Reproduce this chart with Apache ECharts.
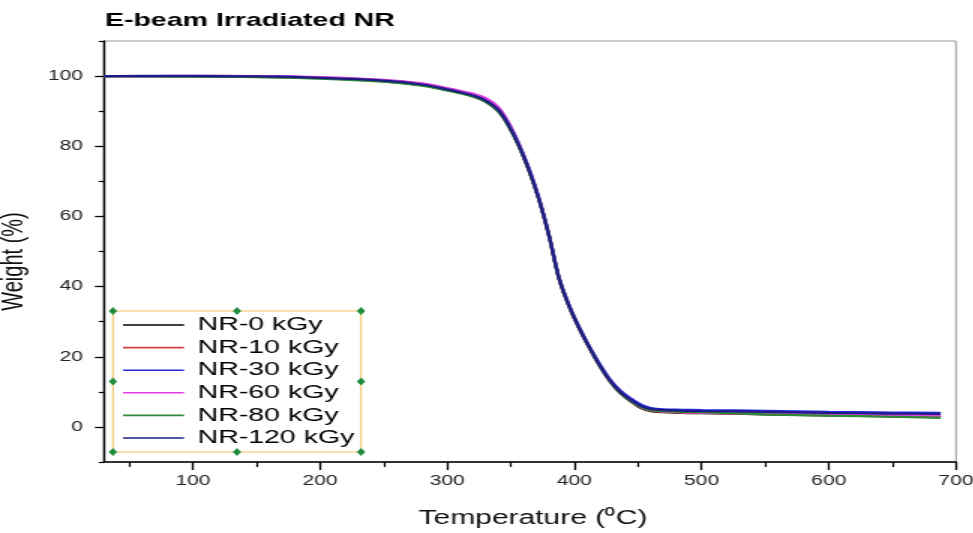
<!DOCTYPE html>
<html><head><meta charset="utf-8">
<script src="https://cdn.jsdelivr.net/npm/echarts@6/dist/echarts.min.js"></script>
<style>
html,body{margin:0;padding:0;background:#fff;overflow:hidden;}
#wrap{width:973px;height:533px;overflow:hidden;position:relative;background:#fff;}
#c{width:649px;height:533px;transform:scaleX(1.5);transform-origin:0 0;}
</style></head><body>
<div id="wrap"><div id="c"></div></div>
<script>
// ---- data ----
const temperature = [30,60,100,150,200,250,280,300,310,320,330,340,348,356,364,372,380,388,396,404,412,420,428,436,444,452,460,470,485,500,550,600,650,688];
const nr0   = [100.0,100.0,100.0,99.8,99.4,98.5,97.4,96.0,95.2,94.2,92.7,90.0,85.8,80.2,73.2,64.8,54.3,42.0,34.1,27.8,22.3,17.2,12.9,9.6,7.3,5.4,4.5,4.2,4.0,3.9,3.6,3.3,3.0,2.8];
const nr10  = [100.0,100.0,100.0,99.9,99.5,98.6,97.5,96.1,95.3,94.4,93.0,90.4,86.0,80.4,73.4,65.0,54.6,42.3,34.2,27.9,22.4,17.4,13.1,9.8,7.5,5.6,4.6,4.3,4.1,4.0,3.7,3.4,3.2,3.0];
const nr30  = [100.0,100.1,100.1,100.0,99.6,98.8,97.8,96.4,95.6,94.8,93.5,91.0,86.8,81.0,74.0,65.4,54.8,42.5,34.6,28.3,22.8,17.9,13.6,10.4,8.2,6.4,5.4,5.0,4.9,4.8,4.6,4.3,4.1,4.0];
const nr60  = [100.0,100.0,100.1,100.0,99.7,98.9,97.9,96.6,95.8,95.0,93.8,91.2,86.8,80.8,73.6,65.0,54.4,42.1,34.2,27.9,22.4,17.5,13.2,10.0,7.7,5.8,4.8,4.4,4.2,4.1,3.8,3.6,3.4,3.2];
const nr80  = [100.0,100.0,99.9,99.7,99.3,98.4,97.3,95.9,95.1,94.2,92.8,90.2,85.9,80.3,73.3,64.9,54.4,42.1,34.2,27.9,22.4,17.4,13.1,9.8,7.5,5.7,4.8,4.5,4.3,4.2,3.6,3.2,2.9,2.6];
const nr120 = [100.0,100.0,100.0,99.9,99.5,98.7,97.6,96.2,95.4,94.5,93.1,90.5,86.2,80.5,73.5,65.0,54.5,42.2,34.3,28.0,22.5,17.5,13.2,10.0,7.8,6.0,5.1,4.8,4.6,4.5,4.3,4.0,3.8,3.7];
const seriesNames = ['NR-0 kGy','NR-10 kGy','NR-30 kGy','NR-60 kGy','NR-80 kGy','NR-120 kGy'];
const seriesValues = [nr0, nr10, nr30, nr60, nr80, nr120];
const seriesColors = ['#000000','#d83c44','#2a2ae0','#e040e0','#2e8b35','#1c1c84'];
const xTicks = [100,200,300,400,500,600,700];
const xMinorTicks = [50,150,250,350,450,550,650];
const yTicks = [0,20,40,60,80,100];
const yMinorTicks = [-10,10,30,50,70,90,110];

const FONT = 'Liberation Sans, Arial, sans-serif';
const chart = echarts.init(document.getElementById('c'), null, {renderer:'canvas'});

const series = seriesNames.map((n, k) => ({
  name: n,
  type: 'line',
  xAxisIndex: 0, yAxisIndex: 0,
  data: temperature.map((t, i) => [t, seriesValues[k][i]]),
  showSymbol: false,
  symbol: 'none',
  smooth: 0.35,
  color: seriesColors[k],
  lineStyle: {width: 2.2, color: seriesColors[k]},
  z: 2 + k
}));

// legend frame decorations (box + green handles)
const bx0 = 75.3, bx1 = 240.7, by0 = 311, by1 = 452;
const hx = [bx0, (bx0 + bx1) / 2, bx1], hy = [by0, (by0 + by1) / 2, by1];
const graphics = [{
  type: 'rect', shape: {x: bx0, y: by0, width: bx1 - bx0, height: by1 - by0},
  style: {fill: 'none', stroke: '#f5c062', lineWidth: 1}, z: 10
}];
hx.forEach((x, i) => hy.forEach((y, j) => {
  if (i === 1 && j === 1) return;
  graphics.push({type: 'polygon', shape: {points: [[x - 2.8, y], [x, y - 4], [x + 2.8, y], [x, y + 4]]},
    style: {fill: '#1f8a3a'}, z: 11});
}));

const gridBox = {left: 69.3, right: 11.7, top: 41, bottom: 71, containLabel: false, outerBoundsMode: 'none'};

chart.setOption({
  animation: false,
  backgroundColor: '#fff',
  title: {
    text: 'E-beam Irradiated NR', left: 70, top: 11, padding: 0,
    textStyle: {fontFamily: FONT, fontSize: 19, fontWeight: 'bold', color: '#000'}
  },
  grid: [
    Object.assign({show: true, borderColor: '#999', borderWidth: 1}, gridBox),
    Object.assign({show: false}, gridBox)
  ],
  legend: {
    orient: 'vertical', left: 82, top: 314, padding: 0, itemGap: 0.6,
    icon: 'rect', itemWidth: 40.7, itemHeight: 1.6,
    data: seriesNames,
    textStyle: {fontFamily: FONT, fontSize: 19, color: '#000', lineHeight: 22, padding: [0, 0, 0, 4]}
  },
  xAxis: [{
    type: 'value', gridIndex: 0, min: 30, max: 700, position: 'bottom', offset: 0,
    name: 'Temperature (\u2070C)', nameLocation: 'middle', nameGap: 46,
    nameTextStyle: {fontFamily: FONT, fontSize: 20, color: '#111', padding: [0, 0, 0, 4]},
    axisLine: {show: true, onZero: false, lineStyle: {color: '#000', width: 1.5}},
    axisTick: {show: true, inside: false, length: 8, customValues: xTicks, lineStyle: {color: '#000', width: 1.3}},
    axisLabel: {customValues: xTicks, margin: 12, fontFamily: FONT, fontSize: 14, color: '#222'},
    splitLine: {show: false}
  }, {
    type: 'value', gridIndex: 1, min: 30, max: 700, position: 'bottom', offset: 0,
    axisLine: {show: false, onZero: false},
    axisTick: {show: true, length: 5, customValues: xMinorTicks, lineStyle: {color: '#000', width: 1.2}},
    axisLabel: {show: false}, splitLine: {show: false}
  }],
  yAxis: [{
    type: 'value', gridIndex: 0, min: -10, max: 110, position: 'left', offset: 0,
    name: 'Weight (%)', nameLocation: 'middle', nameGap: 50,
    nameTextStyle: {fontFamily: FONT, fontSize: 20, color: '#111', padding: [0, 20, 0, 0]},
    axisLine: {show: true, onZero: false, lineStyle: {color: '#000', width: 1.4}},
    axisTick: {show: true, length: 6, customValues: yTicks, lineStyle: {color: '#000', width: 1.3}},
    axisLabel: {customValues: yTicks, margin: 14, fontFamily: FONT, fontSize: 14, color: '#222'},
    splitLine: {show: false}
  }, {
    type: 'value', gridIndex: 1, min: -10, max: 110, position: 'left', offset: 0,
    axisLine: {show: false, onZero: false},
    axisTick: {show: true, length: 3.5, customValues: yMinorTicks, lineStyle: {color: '#000', width: 1.2}},
    axisLabel: {show: false}, splitLine: {show: false}
  }],
  series: series,
  graphic: graphics
});
</script>
</body></html>
